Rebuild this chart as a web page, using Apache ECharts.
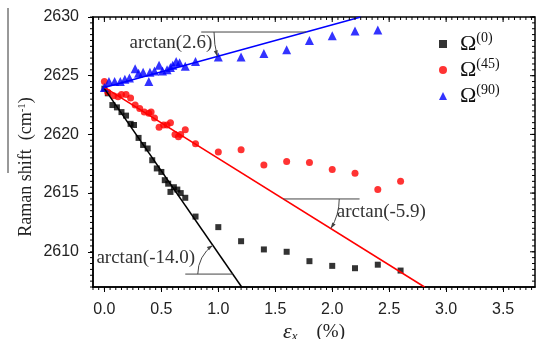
<!DOCTYPE html>
<html>
<head>
<meta charset="utf-8">
<script src="https://cdn.jsdelivr.net/npm/echarts@6/dist/echarts.min.js"></script>
<style>
  html, body { margin: 0; padding: 0; background: #fff; }
  #chart { width: 536px; height: 339px; }
</style>
</head>
<body>
<div id="chart"></div>
<script>
// values: strain (%) vs Raman shift (cm-1)
const strain0 = [0.00, 0.03, 0.07, 0.11, 0.15, 0.19, 0.23, 0.26, 0.30, 0.34, 0.38, 0.42, 0.46, 0.50, 0.53, 0.56, 0.58, 0.61, 0.64, 0.67, 0.71, 0.80, 1.0, 1.2, 1.4, 1.6, 1.8, 2.0, 2.2, 2.4, 2.6];
const shift0 = [2623.9, 2623.5, 2622.5, 2622.3, 2621.9, 2621.6, 2620.9, 2620.8, 2619.7, 2619.1, 2618.8, 2617.8, 2617.1, 2616.8, 2616.1, 2615.8, 2615.1, 2615.5, 2615.3, 2615.0, 2614.6, 2613.0, 2612.1, 2610.9, 2610.2, 2610.0, 2609.2, 2608.8, 2608.6, 2608.9, 2608.4];

const strain45 = [0.00, 0.03, 0.08, 0.12, 0.15, 0.19, 0.23, 0.27, 0.31, 0.35, 0.39, 0.41, 0.44, 0.48, 0.52, 0.55, 0.58, 0.62, 0.65, 0.67, 0.71, 0.80, 1.0, 1.2, 1.4, 1.6, 1.8, 2.0, 2.2, 2.4, 2.6];
const shift45 = [2624.5, 2623.6, 2623.3, 2623.2, 2623.4, 2623.4, 2623.1, 2622.5, 2622.2, 2621.9, 2621.8, 2621.9, 2621.4, 2620.6, 2620.8, 2620.8, 2621.0, 2620.0, 2619.8, 2620.0, 2620.4, 2619.2, 2618.5, 2618.7, 2617.4, 2617.7, 2617.6, 2617.0, 2616.7, 2615.3, 2616.0];

const strain90 = [0.00, 0.04, 0.09, 0.14, 0.18, 0.22, 0.27, 0.30, 0.34, 0.39, 0.40, 0.44, 0.48, 0.51, 0.55, 0.58, 0.60, 0.63, 0.66, 0.71, 0.80, 1.0, 1.2, 1.4, 1.6, 1.8, 2.0, 2.2, 2.4];
const shift90 = [2624.0, 2624.5, 2624.5, 2624.5, 2624.7, 2624.8, 2625.6, 2625.2, 2625.3, 2624.5, 2625.3, 2625.4, 2625.9, 2625.4, 2625.5, 2625.7, 2625.9, 2626.2, 2626.1, 2625.8, 2626.2, 2626.6, 2626.6, 2626.9, 2627.2, 2628.0, 2628.4, 2628.8, 2628.9];

// linear fits, end points as drawn
const fit0 = [[0, 2623.9], [1.205, 2607]];
const fit45 = [[0, 2624.0], [2.81, 2607]];
const fit90 = [[0, 2624.0], [2.25, 2630]];

const angleNames = ['0', '45', '90'];
const slopeLabels = ['arctan(-14.0)', 'arctan(-5.9)', 'arctan(2.6)'];

const xTicks = [0, 0.5, 1.0, 1.5, 2.0, 2.5, 3.0, 3.5];
const yTicks = [2610, 2615, 2620, 2625, 2630];
// minor tick steps of the frame
const xMinor = Array.from({length: 78}, (_, i) => +(-0.1 + 0.05 * i).toFixed(2));
const yMinor = Array.from({length: 47}, (_, i) => 2607 + 0.5 * i);

const xMin = -0.1, xMax = 3.78, yMin = 2607, yMax = 2630;

const serif = 'Liberation Serif';
const sans = 'Liberation Sans';

const zip = (xs, ys) => xs.map((x, i) => [x, ys[i]]);

const chart = echarts.init(document.getElementById('chart'));

const option = {
    animation: false,
    grid: {
        left: 93, top: 17, right: 1, bottom: 52, outerBoundsMode: 'none', containLabel: false,
        show: true, borderColor: '#000', borderWidth: 1.5, backgroundColor: 'transparent'
    },
    legend: {
        data: angleNames,
        orient: 'vertical',
        left: 434,
        top: 26,
        itemWidth: 8,
        itemHeight: 8,
        itemGap: 2,
        formatter: n => '{o|Ω}{s|(' + n + ')}',
        textStyle: {
            rich: {
                o: {fontFamily: serif, fontSize: 22, color: '#111', lineHeight: 26, padding: [0, 0, 0, 8]},
                s: {fontFamily: serif, fontSize: 14, color: '#111', lineHeight: 14, verticalAlign: 'top'}
            }
        }
    },
    xAxis: {
        type: 'value', min: xMin, max: xMax, position: 'bottom',
        splitLine: {show: false},
        axisLine: {show: true, onZero: false, lineStyle: {color: '#000', width: 1.5}},
        axisTick: {show: true, customValues: xTicks, length: 5, lineStyle: {color: '#000', width: 1}},
        axisLabel: {customValues: xTicks, formatter: v => v.toFixed(1), fontFamily: sans, fontSize: 16, color: '#222', margin: 15},
        name: '{e|ε}{b|x}{t|    (%)}',
        nameLocation: 'middle',
        nameGap: 34,
        nameMoveOverlap: false,
        nameTextStyle: {
            rich: {
                e: {fontFamily: serif, fontStyle: 'italic', fontSize: 22, color: '#222'},
                b: {fontFamily: serif, fontStyle: 'italic', fontSize: 13, color: '#222', verticalAlign: 'bottom', lineHeight: 14},
                t: {fontFamily: serif, fontSize: 19, color: '#222'}
            }
        }
    },
    yAxis: {
        type: 'value', min: yMin, max: yMax, position: 'left',
        splitLine: {show: false},
        axisLine: {show: true, onZero: false, lineStyle: {color: '#000', width: 1.5}},
        axisTick: {show: true, customValues: yTicks, length: 5, lineStyle: {color: '#000', width: 1}},
        axisLabel: {customValues: yTicks, formatter: v => String(v), fontFamily: sans, fontSize: 16, color: '#222', margin: 14},
        name: '{t|Raman shift  (cm}{s|-1}{t|)}',
        nameLocation: 'middle',
        nameRotate: 90,
        nameGap: 58,
        nameMoveOverlap: false,
        nameTextStyle: {
            padding: [0, 30, 0, 0],
            rich: {
                t: {fontFamily: serif, fontSize: 18, color: '#222'},
                s: {fontFamily: serif, fontSize: 11, color: '#222', verticalAlign: 'top', lineHeight: 11}
            }
        }
    },
    series: [
        {name: '0', type: 'scatter', symbol: 'rect', symbolSize: 6, itemStyle: {color: '#000'}, data: zip(strain0, shift0), z: 3},
        {name: '45', type: 'scatter', symbol: 'circle', symbolSize: 7, itemStyle: {color: '#ff0000'}, data: zip(strain45, shift45), z: 3},
        {name: '90', type: 'scatter', symbol: 'triangle', symbolSize: 9, itemStyle: {color: '#0000ff'}, data: zip(strain90, shift90), z: 3},
        {type: 'line', symbol: 'none', silent: true, lineStyle: {color: '#000', width: 1.5}, data: fit0, z: 4},
        {type: 'line', symbol: 'none', silent: true, lineStyle: {color: '#ff0000', width: 1.5}, data: fit45, z: 4},
        {type: 'line', symbol: 'none', silent: true, lineStyle: {color: '#0000ff', width: 1.5}, data: fit90, z: 4}
    ]
};

chart.setOption(option);

const toPx = p => chart.convertToPixel({seriesIndex: 0}, p);
const norm = a => (a < 0 ? a + 2 * Math.PI : a);
const graphics = [];

const tickLine = (x1, y1, x2, y2) => ({
    type: 'line', silent: true, shape: {x1: x1, y1: y1, x2: x2, y2: y2},
    style: {stroke: '#000', lineWidth: 1}, z: 50
});

// frame ticks: minor on all sides, major inside on top and right
xMinor.forEach(v => {
    const b = toPx([v, yMin]), t = toPx([v, yMax]);
    graphics.push(tickLine(b[0], b[1], b[0], b[1] + 3));
    graphics.push(tickLine(t[0], t[1], t[0], t[1] + 3));
});
xTicks.forEach(v => {
    const t = toPx([v, yMax]);
    graphics.push(tickLine(t[0], t[1], t[0], t[1] + 5));
});
yMinor.forEach(v => {
    const l = toPx([xMin, v]), r = toPx([xMax, v]);
    graphics.push(tickLine(l[0] - 3, l[1], l[0], l[1]));
    graphics.push(tickLine(r[0] - 3, r[1], r[0], r[1]));
});
yTicks.forEach(v => {
    const r = toPx([xMax, v]);
    graphics.push(tickLine(r[0] - 5, r[1], r[0], r[1]));
});

// slope annotations: horizontal reference, angle arc with arrow, label
const refLines = [
    {y: 2608.1, x0: 0.71, x1: 1.127, fit: fit0, toward: 0, r: 35, tx: -0.07, ty: 2609.45},
    {y: 2614.5, x0: 2.24, x1: 1.57, fit: fit45, toward: 1, r: 56, tx: 2.04, ty: 2613.4},
    {y: 2628.72, x0: 0.85, x1: 1.77, fit: fit90, toward: 0, r: 92, tx: 0.22, ty: 2627.8}
];

refLines.forEach((r, i) => {
    const a = toPx([r.x0, r.y]);
    const c = toPx([r.x1, r.y]);
    const far = toPx(r.fit[r.toward]);
    graphics.push({
        type: 'line', shape: {x1: a[0], y1: a[1], x2: c[0], y2: c[1]},
        style: {stroke: '#444', lineWidth: 1}, z: 10
    });
    const base = norm(Math.atan2(a[1] - c[1], a[0] - c[0]));
    const lineAng = norm(Math.atan2(far[1] - c[1], far[0] - c[0]));
    graphics.push({
        type: 'arc',
        shape: {cx: c[0], cy: c[1], r: r.r, startAngle: Math.min(base, lineAng), endAngle: Math.max(base, lineAng), clockwise: true},
        style: {stroke: '#444', lineWidth: 1, fill: null}, z: 10
    });
    // arrow head where the arc meets the fit line
    const sgn = lineAng > base ? 1 : -1;
    const tip = [c[0] + r.r * Math.cos(lineAng), c[1] + r.r * Math.sin(lineAng)];
    const tx = -Math.sin(lineAng) * sgn, ty = Math.cos(lineAng) * sgn;
    graphics.push({
        type: 'polygon',
        shape: {points: [tip, [tip[0] - 6 * tx - 2 * ty, tip[1] - 6 * ty + 2 * tx], [tip[0] - 6 * tx + 2 * ty, tip[1] - 6 * ty - 2 * tx]]},
        style: {fill: '#444'}, z: 10
    });
    const t = toPx([r.tx, r.ty]);
    graphics.push({
        type: 'text', x: t[0], y: t[1],
        style: {text: slopeLabels[i], font: '19px "Liberation Serif"', fill: '#333', verticalAlign: 'middle'}, z: 10
    });
});

// stray rule beside the axis title in the original scan
graphics.push({type: 'line', shape: {x1: 8, y1: 8, x2: 8, y2: 173}, style: {stroke: '#333', lineWidth: 1}});

chart.setOption({graphic: graphics});
</script>
</body>
</html>
